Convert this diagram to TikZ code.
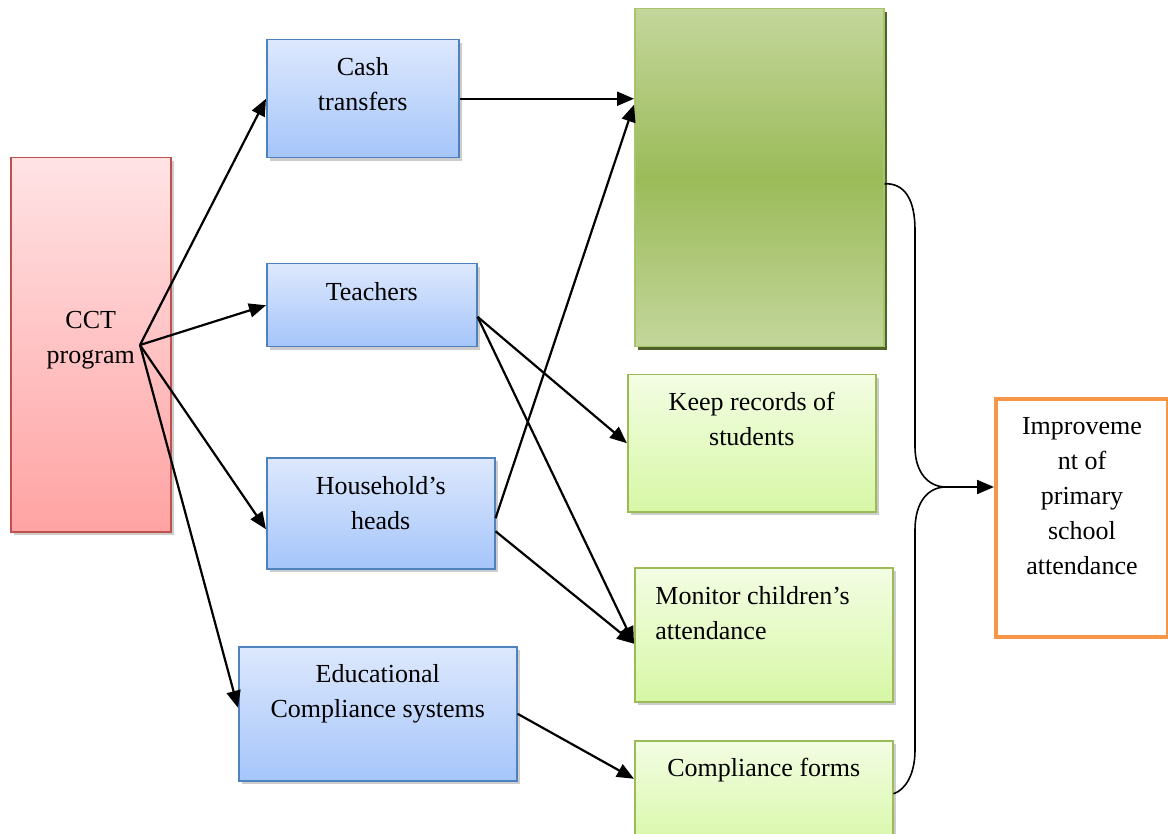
\documentclass[tikz,border=0pt]{standalone}
\usepackage{fontspec}
\setmainfont{Liberation Serif}
\usetikzlibrary{arrows.meta,shadows,calc}
\definecolor{bluetop}{HTML}{DDE8FD}
\definecolor{bluebot}{HTML}{A5C5FA}
\definecolor{blueborder}{HTML}{4F81BD}
\definecolor{pinktop}{HTML}{FFE3E5}
\definecolor{pinkbot}{HTML}{FFA3A3}
\definecolor{pinkborder}{HTML}{C0504D}
\definecolor{lgtop}{HTML}{F3FDE3}
\definecolor{lgbot}{HTML}{D7F7A5}
\definecolor{lgborder}{HTML}{9BBB59}
\definecolor{gedge}{HTML}{C3D69B}
\definecolor{gmid}{HTML}{9BBB59}
\definecolor{gborder}{HTML}{A6C46A}
\definecolor{gshadow}{HTML}{4F6228}
\definecolor{orangeborder}{HTML}{F79646}
\begin{document}
\begin{tikzpicture}[x=0.5pt,y=-0.5pt, font=\fontsize{13}{17.5}\selectfont,
  base/.style={draw, line width=0.75pt, anchor=north west, inner sep=0pt},
  sh/.style={drop shadow={shadow xshift=1.5pt,shadow yshift=-1.5pt,fill=black!20,opacity=1}},
  bluebox/.style={base, sh, draw=blueborder, top color=bluetop, bottom color=bluebot},
  pinkbox/.style={base, sh, draw=pinkborder, top color=pinktop, bottom color=pinkbot},
  lgbox/.style={base, sh, draw=lgborder, top color=lgtop, bottom color=lgbot},
  bigbox/.style={base, draw=gborder, top color=gedge, bottom color=gedge, middle color=gmid,
     drop shadow={shadow xshift=1.5pt,shadow yshift=-1.5pt,fill=gshadow,opacity=1}},
  outbox/.style={base, draw=orangeborder, line width=2pt, fill=white},
  txt/.style={anchor=north, align=center, inner sep=0pt, yshift=-9pt},
  txtl/.style={anchor=north west, align=left, inner sep=0pt, yshift=-9.5pt, xshift=10.5pt},
  arr/.style={line width=1.1pt, -{Triangle[length=8.5pt,width=7pt]}},
  curve/.style={line width=0.8pt},
]
\useasboundingbox (0,0) rectangle (1168,834);

\node[pinkbox, minimum width=80pt, minimum height=187pt,
  label={[txt, yshift=-68pt]north:{CCT\\program}}] (cct) at (10,157) {};
\node[bluebox, minimum width=96pt, minimum height=59pt,
  label={[txt]north:{Cash\\transfers}}] (cash) at (266,39) {};
\node[bluebox, minimum width=105pt, minimum height=41.5pt,
  label={[txt, yshift=-0.5pt]north:{Teachers}}] (teach) at (266,263) {};
\node[bluebox, minimum width=114pt, minimum height=55.5pt,
  label={[txt, yshift=-0.5pt]north:{Household’s\\heads}}] (hh) at (266,457) {};
\node[bluebox, minimum width=139pt, minimum height=67pt,
  label={[txt]north:{Educational\\Compliance systems}}] (edu) at (238,646) {};

\node[bigbox, minimum width=124.5pt, minimum height=169pt] (green) at (634,8) {};
\node[lgbox, minimum width=124pt, minimum height=68.5pt,
  label={[txt]north:{Keep records of\\students}}] (keep) at (627,374) {};
\node[lgbox, minimum width=129pt, minimum height=67pt,
  label={[txtl]north west:{Monitor children’s\\attendance}}] (mon) at (634,567) {};
\node[lgbox, minimum width=129pt, minimum height=55pt,
  label={[txt]north:{Compliance forms}}] (comp) at (634,740) {};

\node[outbox, minimum width=86pt, minimum height=119pt,
  label={[txt, yshift=-1pt]north:{Improveme\\nt of\\primary\\school\\attendance}}] (imp) at (994,397) {};

\coordinate (hub) at (140,345);
\draw[arr] (hub) -- (cash.west);
\draw[arr] (hub) -- (teach.west);
\draw[arr] (hub) -- ([yshift=-8pt]hh.west);
\draw[arr] (hub) -- ([yshift=3pt]edu.west);

\draw[arr] (cash.east) -- (cash.east -| green.west);
\draw[arr] ([yshift=-2.5pt]hh.east) -- ([yshift=36.5pt]green.west);
\draw[arr] ([yshift=-5.75pt]teach.east) -- (keep.west);
\draw[arr] ([yshift=-5.75pt]teach.east) -- ([yshift=-4.5pt]mon.west);
\draw[arr] ([yshift=-9pt]hh.east) -- ([yshift=-4.5pt]mon.west);
\draw[arr] (edu.east) -- ([yshift=8.5pt]comp.west);

\coordinate (join) at (946,487);
\draw[curve] ([yshift=-3pt]green.east) .. controls (905,183) and (915,200) .. (915,230)
   -- (915,447) .. controls (915,472) and (928,487) .. (join);
\draw[curve] ([yshift=1pt]comp.east) .. controls (905,790) and (915,775) .. (915,750)
   -- (915,530) .. controls (915,502) and (928,487) .. (join);
\draw[arr] (join) -- (join -| imp.west);
\end{tikzpicture}
\end{document}
